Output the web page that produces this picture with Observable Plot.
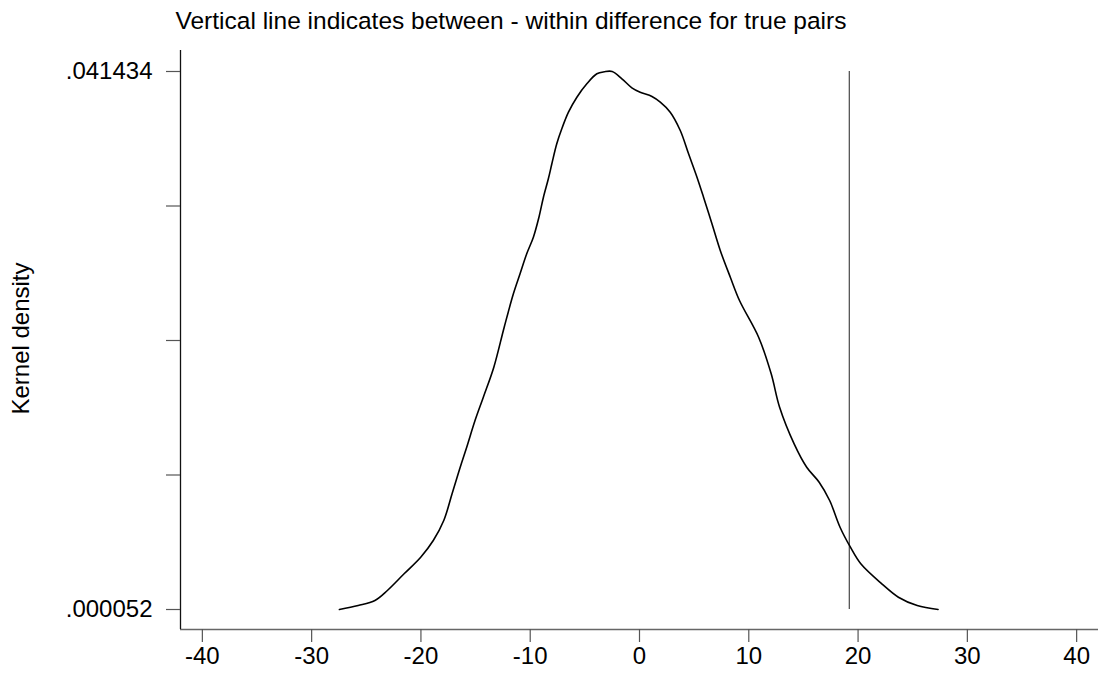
<!DOCTYPE html>
<html>
<head>
<meta charset="utf-8">
<script src="https://cdn.jsdelivr.net/npm/d3@7"></script>
<script src="https://cdn.jsdelivr.net/npm/@observablehq/plot@0.6"></script>
<style>
  html, body { margin: 0; padding: 0; background: #fff; }
  #chart svg { display: block; }
</style>
</head>
<body>
<div id="chart"></div>
<script>
// ---- data ----
const titleText = "Vertical line indicates between - within difference for true pairs";
const yAxisLabel = "Kernel density";

const densityX = [-27.46,-25.74,-24.21,-23.07,-21.54,-20.02,-18.87,-17.91,-17.15,-16.50,-15.81,-15.05,-14.29,-13.33,-12.38,-11.54,-10.93,-10.32,-9.71,-9.20,-8.79,-8.34,-8.02,-7.57,-7.11,-6.50,-5.73,-4.82,-3.90,-3.23,-2.50,-1.61,-0.70,0.06,1.14,1.90,2.81,3.73,4.49,5.26,5.86,6.63,7.39,8.31,9.15,10.90,12.05,12.82,14.15,15.30,16.44,17.40,18.35,19.30,20.25,22.17,23.69,25.41,27.32];
const densityY = [0.000052,0.000360,0.000744,0.001513,0.002798,0.004075,0.005359,0.006898,0.008951,0.010744,0.012536,0.014590,0.016382,0.018690,0.021766,0.024335,0.025874,0.027412,0.028689,0.030227,0.031766,0.033181,0.034335,0.035873,0.037026,0.038303,0.039457,0.040488,0.041257,0.041411,0.041434,0.040873,0.040181,0.039842,0.039511,0.039073,0.038303,0.036896,0.035103,0.033304,0.031766,0.029719,0.027666,0.025612,0.023820,0.020997,0.018182,0.015613,0.012797,0.010998,0.009843,0.008436,0.006382,0.004844,0.003567,0.002029,0.000998,0.000360,0.000052];

const verticalLineX = [19.2];
const densityMin = 0.000052;
const densityMax = 0.041434;

const xTicks = [-40, -30, -20, -10, 0, 10, 20, 30, 40];
const xDomain = [-42, 42];
const yDomain = [-0.001486, 0.043049];
const yTicks = [0.000052, 0.0103975, 0.020743, 0.0310885, 0.041434];
const yTickLabels = [".000052", "", "", "", ".041434"];

// ---- build ----
const curve = densityX.map((x, i) => ({x, y: densityY[i]}));
const font = "'Liberation Sans', Arial, Helvetica, sans-serif";

const chart = Plot.plot({
  width: 1101,
  height: 673,
  marginLeft: 180,
  marginRight: 3,
  marginTop: 50,
  marginBottom: 44,
  style: {fontFamily: font, fontSize: "24px", color: "#000", background: "#fff", overflow: "visible"},
  x: {domain: xDomain},
  y: {domain: yDomain},
  marks: [
    // axis lines
    Plot.ruleY([yDomain[0]], {stroke: "#666", strokeWidth: 1.4}),
    Plot.ruleX([xDomain[0]], {stroke: "#111", strokeWidth: 1.3}),
    Plot.axisX({
      ticks: xTicks,
      tickSize: 13,
      tickPadding: 4,
      stroke: "#555",
      strokeWidth: 1.2,
      fontSize: 24,
      tickFormat: d => String(d),
      label: null
    }),
    Plot.axisY({
      ticks: yTicks,
      tickSize: 14,
      tickPadding: 14,
      stroke: "#555",
      strokeWidth: 1.2,
      fontSize: 24,
      tickFormat: d => yTickLabels[yTicks.indexOf(d)],
      label: null
    }),
    // vertical reference line
    Plot.ruleX(verticalLineX, {y1: densityMin, y2: densityMax, stroke: "#555", strokeWidth: 1.3}),
    // density curve
    Plot.line(curve, {x: "x", y: "y", stroke: "#000", strokeWidth: 1.6, curve: "catmull-rom"}),
    // title
    Plot.text([titleText], {
      text: d => d, frameAnchor: "top-left", textAnchor: "start", lineAnchor: "bottom",
      dx: -5, dy: -22, fontSize: 24.5, fill: "#000"
    }),
    // y-axis title
    Plot.text([yAxisLabel], {
      text: d => d, frameAnchor: "left", rotate: -90, textAnchor: "middle", lineAnchor: "bottom",
      dx: -151.5, dy: -1.5, fontSize: 24, fill: "#000"
    })
  ]
});

document.getElementById("chart").appendChild(chart);
</script>
</body>
</html>
